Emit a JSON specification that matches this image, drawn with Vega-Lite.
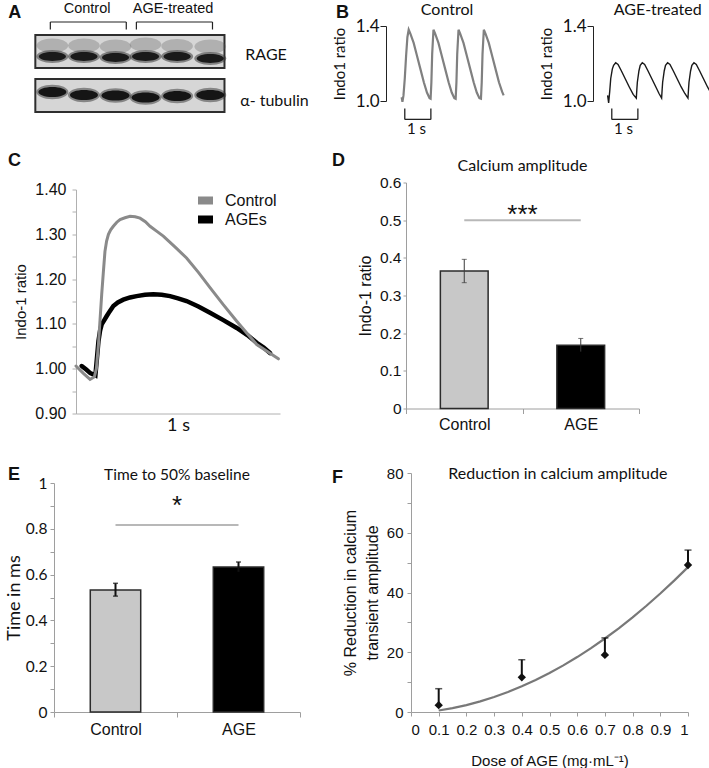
{
  "$schema": "https://vega.github.io/schema/vega-lite/v6.json",
  "background": "white",
  "padding": {"left": 5, "top": 1, "right": 0, "bottom": 0},
  "config": {
    "view": {"stroke": null},
    "axis": {"grid": false, "domainColor": "#9e9e9e", "tickColor": "#9e9e9e", "labelColor": "#111111", "titleColor": "#111111", "labelFont": "Liberation Sans", "titleFont": "Liberation Sans", "titleFontWeight": "normal", "labelFontSize": 15, "titleFontSize": 16},
    "title": {"font": "Liberation Sans", "fontSize": 18, "fontWeight": "bold", "color": "#111111", "anchor": "start", "frame": "group"}
  },
  "datasets": {
    "aBoxes": [{"x": 0.46, "x2": 6.45, "y": 3.3, "y2": 6.6}, {"x": 0.46, "x2": 6.45, "y": 7.7, "y2": 11.0}],
    "aRageUpper": [{"x": 1.0, "y": 4.35}, {"x": 2.0, "y": 4.35}, {"x": 3.0, "y": 4.45}, {"x": 3.95, "y": 4.25}, {"x": 4.95, "y": 4.4}, {"x": 6.0, "y": 4.45}],
    "aRageLower": [{"x": 1.0, "y": 5.45}, {"x": 2.0, "y": 5.45}, {"x": 3.0, "y": 5.55}, {"x": 3.95, "y": 5.45}, {"x": 4.95, "y": 5.45}, {"x": 6.0, "y": 5.65}],
    "aTubulin": [{"x": 1.0, "y": 9.0}, {"x": 2.0, "y": 9.3}, {"x": 3.0, "y": 9.35}, {"x": 3.95, "y": 9.55}, {"x": 4.95, "y": 9.4}, {"x": 6.0, "y": 9.3}],
    "aBrackets": [{"x": 0.935, "x2": 3.34, "y": 2.0}, {"x": 3.66, "x2": 6.07, "y": 2.0}],
    "aLegs": [{"x": 0.935, "y": 2.0, "y2": 2.75}, {"x": 3.34, "y": 2.0, "y2": 2.75}, {"x": 3.66, "y": 2.0, "y2": 2.75}, {"x": 6.07, "y": 2.0, "y2": 2.75}],
    "aLabels": [{"x": 2.1, "y": 0.7, "label": "Control"}, {"x": 4.82, "y": 0.7, "label": "AGE-treated"}],
    "aNames": [{"x": 7.11, "y": 5.25, "label": "RAGE"}, {"x": 6.95, "y": 9.9, "label": "α- tubulin"}],
    "aLetter": [{"x": -0.4, "y": 1.1, "label": "A"}],
    "bControl": [
      {"t": 0.0, "v": 1.02}, {"t": 0.03, "v": 0.995}, {"t": 0.07, "v": 1.03}, {"t": 0.12, "v": 1.12}, {"t": 0.17, "v": 1.24}, {"t": 0.22, "v": 1.34}, {"t": 0.27, "v": 1.38},
      {"t": 0.33, "v": 1.36}, {"t": 0.46, "v": 1.31}, {"t": 0.59, "v": 1.24}, {"t": 0.72, "v": 1.17}, {"t": 0.85, "v": 1.1}, {"t": 0.97, "v": 1.045}, {"t": 1.07, "v": 1.015}, {"t": 1.11, "v": 1.012},
      {"t": 1.14, "v": 1.1}, {"t": 1.17, "v": 1.25}, {"t": 1.22, "v": 1.38}, {"t": 1.28, "v": 1.36}, {"t": 1.41, "v": 1.31}, {"t": 1.54, "v": 1.24}, {"t": 1.67, "v": 1.17}, {"t": 1.8, "v": 1.1}, {"t": 1.92, "v": 1.045}, {"t": 2.02, "v": 1.015}, {"t": 2.07, "v": 1.012},
      {"t": 2.1, "v": 1.1}, {"t": 2.13, "v": 1.25}, {"t": 2.18, "v": 1.38}, {"t": 2.24, "v": 1.36}, {"t": 2.37, "v": 1.31}, {"t": 2.5, "v": 1.24}, {"t": 2.63, "v": 1.17}, {"t": 2.76, "v": 1.1}, {"t": 2.88, "v": 1.045}, {"t": 2.98, "v": 1.015}, {"t": 3.04, "v": 1.012},
      {"t": 3.07, "v": 1.1}, {"t": 3.1, "v": 1.25}, {"t": 3.15, "v": 1.38}, {"t": 3.21, "v": 1.36}, {"t": 3.34, "v": 1.31}, {"t": 3.47, "v": 1.24}, {"t": 3.6, "v": 1.17}, {"t": 3.73, "v": 1.1}, {"t": 3.85, "v": 1.05}, {"t": 3.91, "v": 1.03}
    ],
    "bAGE": [
      {"t": -0.04, "v": 1.03}, {"t": 0.0, "v": 0.99}, {"t": 0.04, "v": 1.05}, {"t": 0.08, "v": 1.12}, {"t": 0.14, "v": 1.17}, {"t": 0.19, "v": 1.19}, {"t": 0.27, "v": 1.204}, {"t": 0.36, "v": 1.195}, {"t": 0.49, "v": 1.16}, {"t": 0.64, "v": 1.117}, {"t": 0.79, "v": 1.075}, {"t": 0.94, "v": 1.035}, {"t": 1.06, "v": 1.015},
      {"t": 1.08, "v": 1.06}, {"t": 1.1, "v": 1.1}, {"t": 1.16, "v": 1.16}, {"t": 1.21, "v": 1.19}, {"t": 1.29, "v": 1.204}, {"t": 1.38, "v": 1.195}, {"t": 1.51, "v": 1.16}, {"t": 1.66, "v": 1.117}, {"t": 1.81, "v": 1.075}, {"t": 1.93, "v": 1.04}, {"t": 2.03, "v": 1.015},
      {"t": 2.05, "v": 1.06}, {"t": 2.07, "v": 1.1}, {"t": 2.13, "v": 1.16}, {"t": 2.18, "v": 1.19}, {"t": 2.26, "v": 1.204}, {"t": 2.35, "v": 1.195}, {"t": 2.48, "v": 1.16}, {"t": 2.63, "v": 1.117}, {"t": 2.78, "v": 1.075}, {"t": 2.92, "v": 1.04}, {"t": 3.04, "v": 1.015},
      {"t": 3.06, "v": 1.06}, {"t": 3.08, "v": 1.1}, {"t": 3.14, "v": 1.16}, {"t": 3.19, "v": 1.19}, {"t": 3.27, "v": 1.204}, {"t": 3.36, "v": 1.195}, {"t": 3.49, "v": 1.16}, {"t": 3.64, "v": 1.117}, {"t": 3.79, "v": 1.075}, {"t": 3.93, "v": 1.04}, {"t": 4.0, "v": 1.03}
    ],
    "bScale": [{"t": 0.12, "t2": 1.12, "v": 0.902}],
    "bLegs": [{"t": 0.12, "v": 0.902, "v2": 0.96}, {"t": 1.12, "v": 0.902, "v2": 0.96}],
    "bScaleText": [{"t": 0.57, "v": 0.85, "label": "1 s"}],
    "bHeadC": [{"t": 1.74, "v": 1.485, "label": "Control"}],
    "bHeadA": [{"t": 1.88, "v": 1.485, "label": "AGE-treated"}],
    "cTrace": [
      {"series": "AGEs", "t": 0.028, "v": 1.006}, {"series": "AGEs", "t": 0.05, "v": 0.998}, {"series": "AGEs", "t": 0.07, "v": 0.99}, {"series": "AGEs", "t": 0.085, "v": 0.987}, {"series": "AGEs", "t": 0.095, "v": 0.985}, {"series": "AGEs", "t": 0.104, "v": 1.03}, {"series": "AGEs", "t": 0.11, "v": 1.061}, {"series": "AGEs", "t": 0.118, "v": 1.085}, {"series": "AGEs", "t": 0.126, "v": 1.099}, {"series": "AGEs", "t": 0.138, "v": 1.108}, {"series": "AGEs", "t": 0.15, "v": 1.117}, {"series": "AGEs", "t": 0.165, "v": 1.128}, {"series": "AGEs", "t": 0.183, "v": 1.14}, {"series": "AGEs", "t": 0.205, "v": 1.148}, {"series": "AGEs", "t": 0.232, "v": 1.154}, {"series": "AGEs", "t": 0.265, "v": 1.159}, {"series": "AGEs", "t": 0.297, "v": 1.162}, {"series": "AGEs", "t": 0.338, "v": 1.165}, {"series": "AGEs", "t": 0.379, "v": 1.166}, {"series": "AGEs", "t": 0.42, "v": 1.165}, {"series": "AGEs", "t": 0.461, "v": 1.162}, {"series": "AGEs", "t": 0.5, "v": 1.157}, {"series": "AGEs", "t": 0.542, "v": 1.151}, {"series": "AGEs", "t": 0.6, "v": 1.139}, {"series": "AGEs", "t": 0.657, "v": 1.125}, {"series": "AGEs", "t": 0.72, "v": 1.109}, {"series": "AGEs", "t": 0.788, "v": 1.091}, {"series": "AGEs", "t": 0.84, "v": 1.075}, {"series": "AGEs", "t": 0.886, "v": 1.058}, {"series": "AGEs", "t": 0.92, "v": 1.047}, {"series": "AGEs", "t": 0.951, "v": 1.035},
      {"series": "Control", "t": 0.0, "v": 1.006}, {"series": "Control", "t": 0.035, "v": 0.99}, {"series": "Control", "t": 0.069, "v": 0.976}, {"series": "Control", "t": 0.09, "v": 0.982}, {"series": "Control", "t": 0.1, "v": 1.0}, {"series": "Control", "t": 0.11, "v": 1.054}, {"series": "Control", "t": 0.118, "v": 1.11}, {"series": "Control", "t": 0.126, "v": 1.166}, {"series": "Control", "t": 0.134, "v": 1.215}, {"series": "Control", "t": 0.142, "v": 1.262}, {"series": "Control", "t": 0.15, "v": 1.285}, {"series": "Control", "t": 0.159, "v": 1.3}, {"series": "Control", "t": 0.17, "v": 1.31}, {"series": "Control", "t": 0.183, "v": 1.318}, {"series": "Control", "t": 0.2, "v": 1.327}, {"series": "Control", "t": 0.216, "v": 1.333}, {"series": "Control", "t": 0.24, "v": 1.337}, {"series": "Control", "t": 0.265, "v": 1.34}, {"series": "Control", "t": 0.29, "v": 1.339}, {"series": "Control", "t": 0.314, "v": 1.336}, {"series": "Control", "t": 0.34, "v": 1.328}, {"series": "Control", "t": 0.363, "v": 1.318}, {"series": "Control", "t": 0.395, "v": 1.307}, {"series": "Control", "t": 0.428, "v": 1.296}, {"series": "Control", "t": 0.485, "v": 1.272}, {"series": "Control", "t": 0.542, "v": 1.247}, {"series": "Control", "t": 0.6, "v": 1.215}, {"series": "Control", "t": 0.657, "v": 1.181}, {"series": "Control", "t": 0.72, "v": 1.144}, {"series": "Control", "t": 0.788, "v": 1.106}, {"series": "Control", "t": 0.84, "v": 1.078}, {"series": "Control", "t": 0.886, "v": 1.054}, {"series": "Control", "t": 0.94, "v": 1.038}, {"series": "Control", "t": 0.992, "v": 1.022}
    ],
    "dBars": [{"group": "Control", "val": 0.365}, {"group": "AGE", "val": 0.168}],
    "dErr": [{"group": "Control", "val": 0.334, "val2": 0.396}, {"group": "AGE", "val": 0.151, "val2": 0.186}],
    "dCaps": [{"group": "Control", "val": 0.334}, {"group": "Control", "val": 0.396}, {"group": "AGE", "val": 0.186}],
    "dSig": [{"group": "Control", "group2": "AGE", "val": 0.5}],
    "dStar": [{"group": "AGE", "val": 0.515, "label": "***"}],
    "dHead": [{"group": "AGE", "val": 0.645, "label": "Calcium amplitude"}],
    "eBars": [{"group": "Control", "val": 0.533}, {"group": "AGE", "val": 0.633}],
    "eErr": [{"group": "Control", "val": 0.506, "val2": 0.562}, {"group": "AGE", "val": 0.612, "val2": 0.655}],
    "eCaps": [{"group": "Control", "val": 0.506}, {"group": "Control", "val": 0.562}, {"group": "AGE", "val": 0.655}],
    "eSig": [{"group": "Control", "group2": "AGE", "val": 0.817}],
    "eStar": [{"group": "AGE", "val": 0.9, "label": "*"}],
    "eHead": [{"group": "AGE", "val": 1.035, "label": "Time to 50% baseline"}],
    "fPts": [{"dose": 0.1, "red": 2.3, "hi": 7.8}, {"dose": 0.4, "red": 11.6, "hi": 17.5}, {"dose": 0.7, "red": 19.1, "hi": 24.8}, {"dose": 1.0, "red": 49.2, "hi": 54.2}],
    "fFit": [{"dose": 0.1, "red": 0.5}, {"dose": 0.15, "red": 1.3}, {"dose": 0.2, "red": 2.32}, {"dose": 0.25, "red": 3.56}, {"dose": 0.3, "red": 5.02}, {"dose": 0.35, "red": 6.7}, {"dose": 0.4, "red": 8.6}, {"dose": 0.45, "red": 10.72}, {"dose": 0.5, "red": 13.06}, {"dose": 0.55, "red": 15.61}, {"dose": 0.6, "red": 18.39}, {"dose": 0.65, "red": 21.38}, {"dose": 0.7, "red": 24.6}, {"dose": 0.75, "red": 28.03}, {"dose": 0.8, "red": 31.69}, {"dose": 0.85, "red": 35.56}, {"dose": 0.9, "red": 39.66}, {"dose": 0.95, "red": 43.97}, {"dose": 1.0, "red": 48.5}],
    "fHead": [{"dose": 0.53, "red": 79.5, "label": "Reduction in calcium amplitude"}]
  },
  "columns": 2,
  "align": "none",
  "spacing": {"row": 13.5, "column": 10},
  "resolve": {"legend": {"color": "independent"}},
  "concat": [
    {
      "width": 224, "height": 86,
      "encoding": {
        "x": {"field": "x", "type": "quantitative", "scale": {"domain": [1.748, 8.841]}, "axis": null},
        "y": {"field": "y", "type": "quantitative", "scale": {"domain": [2.4, 11.0], "reverse": true}, "axis": null}
      },
      "layer": [
        {"data": {"name": "aBoxes"}, "mark": {"type": "rect", "fill": "#d6d6d6", "stroke": "#2e2e2e", "strokeWidth": 2}, "encoding": {"x2": {"field": "x2"}, "y2": {"field": "y2"}}},
        {"data": {"name": "aRageUpper"}, "mark": {"type": "point", "shape": "M-1,0A1,0.45,0,1,1,1,0A1,0.45,0,1,1,-1,0Z", "filled": true, "color": "#5a5a5a", "opacity": 0.3, "size": 1000, "strokeWidth": 0}},
        {"data": {"name": "aRageLower"}, "mark": {"type": "point", "shape": "M-1,0A1,0.4,0,1,1,1,0A1,0.4,0,1,1,-1,0Z", "filled": true, "color": "#3c3c3c", "opacity": 0.55, "size": 1024, "strokeWidth": 0}},
        {"data": {"name": "aRageLower"}, "mark": {"type": "point", "shape": "M-1,0A1,0.33,0,1,1,1,0A1,0.33,0,1,1,-1,0Z", "filled": true, "color": "#141414", "opacity": 0.95, "size": 729, "strokeWidth": 0}},
        {"data": {"name": "aTubulin"}, "mark": {"type": "point", "shape": "M-1,0A1,0.45,0,1,1,1,0A1,0.45,0,1,1,-1,0Z", "filled": true, "color": "#333333", "opacity": 0.5, "size": 1024, "strokeWidth": 0}},
        {"data": {"name": "aTubulin"}, "mark": {"type": "point", "shape": "M-1,0A1,0.36,0,1,1,1,0A1,0.36,0,1,1,-1,0Z", "filled": true, "color": "#0f0f0f", "opacity": 0.95, "size": 784, "strokeWidth": 0}},
        {"data": {"name": "aBrackets"}, "mark": {"type": "rule", "color": "#222222", "strokeWidth": 1.2}, "encoding": {"x2": {"field": "x2"}}},
        {"data": {"name": "aLegs"}, "mark": {"type": "rule", "color": "#222222", "strokeWidth": 1.2}, "encoding": {"y2": {"field": "y2"}}},
        {"data": {"name": "aLabels"}, "mark": {"type": "text", "font": "Liberation Sans", "fontSize": 14.5, "color": "#111111", "align": "center", "baseline": "middle"}, "encoding": {"text": {"field": "label"}}},
        {"data": {"name": "aNames"}, "mark": {"type": "text", "font": "Lato", "fontSize": 16, "color": "#111111", "align": "left", "baseline": "middle"}, "encoding": {"text": {"field": "label"}}},
        {"data": {"name": "aLetter"}, "mark": {"type": "text", "font": "Liberation Sans", "fontSize": 18, "fontWeight": "bold", "color": "#111111", "align": "left", "baseline": "middle"}, "encoding": {"text": {"field": "label"}}}
      ]
    },
    {
      "columns": 2,
      "align": "none",
      "spacing": 30,
      "concat": [
        {
          "width": 120, "height": 75,
          "title": {"text": "B", "dx": -50, "offset": -20},
          "encoding": {
            "x": {"field": "t", "type": "quantitative", "scale": {"domain": [-0.6, 4]}, "axis": null},
            "y": {"field": "v", "type": "quantitative", "scale": {"domain": [1.0, 1.4], "nice": false, "zero": false},
                  "axis": {"values": [1.0, 1.4], "format": ".1f", "title": "Indo1 ratio", "domainColor": "#222222", "tickColor": "#222222", "tickSize": 6, "labelPadding": 1, "labelFont": "Lato", "labelFontSize": 17, "titleFont": "Lato", "titleFontSize": 15, "titlePadding": 8}}
          },
          "layer": [
            {"data": {"name": "bControl"}, "mark": {"type": "line", "color": "#808080", "strokeWidth": 2.2}},
            {"data": {"name": "bScale"}, "mark": {"type": "rule", "color": "#222222", "strokeWidth": 1.3}, "encoding": {"x2": {"field": "t2"}}},
            {"data": {"name": "bLegs"}, "mark": {"type": "rule", "color": "#222222", "strokeWidth": 1.3}, "encoding": {"y2": {"field": "v2"}}},
            {"data": {"name": "bScaleText"}, "mark": {"type": "text", "font": "Lato", "fontSize": 15, "color": "#111111", "baseline": "middle"}, "encoding": {"text": {"field": "label"}}},
            {"data": {"name": "bHeadC"}, "mark": {"type": "text", "font": "Lato", "fontSize": 16, "color": "#111111", "baseline": "middle"}, "encoding": {"text": {"field": "label"}}}
          ]
        },
        {
          "width": 120, "height": 75,
          "encoding": {
            "x": {"field": "t", "type": "quantitative", "scale": {"domain": [-0.6, 4]}, "axis": null},
            "y": {"field": "v", "type": "quantitative", "scale": {"domain": [1.0, 1.4], "nice": false, "zero": false},
                  "axis": {"values": [1.0, 1.4], "format": ".1f", "title": "Indo1 ratio", "domainColor": "#222222", "tickColor": "#222222", "tickSize": 6, "labelPadding": 1, "labelFont": "Lato", "labelFontSize": 17, "titleFont": "Lato", "titleFontSize": 15, "titlePadding": 8}}
          },
          "layer": [
            {"data": {"name": "bAGE"}, "mark": {"type": "line", "color": "#1a1a1a", "strokeWidth": 1.4}},
            {"data": {"name": "bScale"}, "mark": {"type": "rule", "color": "#222222", "strokeWidth": 1.3}, "encoding": {"x2": {"field": "t2"}}},
            {"data": {"name": "bLegs"}, "mark": {"type": "rule", "color": "#222222", "strokeWidth": 1.3}, "encoding": {"y2": {"field": "v2"}}},
            {"data": {"name": "bScaleText"}, "mark": {"type": "text", "font": "Lato", "fontSize": 15, "color": "#111111", "baseline": "middle"}, "encoding": {"text": {"field": "label"}}},
            {"data": {"name": "bHeadA"}, "mark": {"type": "text", "font": "Lato", "fontSize": 16, "color": "#111111", "baseline": "middle"}, "encoding": {"text": {"field": "label"}}}
          ]
        }
      ]
    },
    {
      "width": 204, "height": 224,
      "title": {"text": "C", "dx": -68, "offset": 12},
      "data": {"name": "cTrace"},
      "encoding": {
        "x": {"field": "t", "type": "quantitative", "scale": {"domain": [0, 1]}, "axis": {"labels": false, "ticks": false, "title": "1 s", "titleFont": "Lato", "titleFontSize": 18, "titlePadding": 3, "domainColor": "#b0b0b0"}},
        "y": {"field": "v", "type": "quantitative", "scale": {"domain": [0.9, 1.4], "nice": false, "zero": false},
              "axis": {"values": [0.9, 0.95, 1.0, 1.05, 1.1, 1.15, 1.2, 1.25, 1.3, 1.35, 1.4], "labelExpr": "round(datum.value*100) % 10 == 0 ? format(datum.value, '.2f') : ''", "labelFontSize": 16, "tickSize": 4, "labelPadding": 6, "title": "Indo-1 ratio", "titleFontSize": 15, "titlePadding": 6, "domainColor": "#b0b0b0", "tickColor": "#b0b0b0"}},
        "color": {"field": "series", "type": "nominal", "scale": {"domain": ["Control", "AGEs"], "range": ["#8a8a8a", "#000000"]},
                  "legend": {"orient": "top-right", "offset": 3, "title": null, "symbolType": "M-1,0H1", "symbolStrokeWidth": 8, "symbolSize": 225, "clipHeight": 16, "labelFont": "Liberation Sans", "labelFontSize": 16, "labelColor": "#111111", "labelOffset": 8, "rowPadding": 3}}
      },
      "layer": [
        {"transform": [{"filter": "datum.series == 'AGEs'"}], "mark": {"type": "line", "strokeWidth": 4.5, "strokeCap": "round"}},
        {"transform": [{"filter": "datum.series == 'Control'"}], "mark": {"type": "line", "strokeWidth": 3, "strokeCap": "round"}}
      ]
    },
    {
      "width": 233, "height": 226,
      "title": {"text": "D", "dx": -74, "offset": -12},
      "encoding": {
        "x": {"field": "group", "type": "nominal", "scale": {"domain": ["Control", "AGE"], "paddingInner": 0, "paddingOuter": 0},
              "axis": {"title": null, "labelAngle": 0, "tickBand": "extent", "tickSize": 5, "labelPadding": 3, "labelFontSize": 16}},
        "y": {"field": "val", "type": "quantitative", "scale": {"domain": [0, 0.6], "nice": false},
              "axis": {"values": [0, 0.1, 0.2, 0.3, 0.4, 0.5, 0.6], "labelExpr": "datum.value == 0 ? '0' : format(datum.value, '.1f')", "labelFontSize": 15.5, "tickSize": 3, "labelPadding": 2, "title": "Indo-1 ratio", "titleFontSize": 16, "titlePadding": 6}}
      },
      "layer": [
        {"data": {"name": "dBars"}, "mark": {"type": "bar", "width": {"band": 0.41}, "stroke": "#2b2b2b", "strokeWidth": 1.5},
         "encoding": {"fill": {"field": "group", "type": "nominal", "scale": {"domain": ["Control", "AGE"], "range": ["#c8c8c8", "#000000"]}, "legend": null}}},
        {"data": {"name": "dErr"}, "mark": {"type": "rule", "color": "#3a3a3a", "strokeWidth": 1}, "encoding": {"y2": {"field": "val2"}}},
        {"data": {"name": "dCaps"}, "mark": {"type": "tick", "orient": "horizontal", "color": "#3a3a3a", "thickness": 1, "size": 5}},
        {"data": {"name": "dSig"}, "mark": {"type": "rule", "color": "#b8b8b8", "strokeWidth": 2}, "encoding": {"x2": {"field": "group2"}}},
        {"data": {"name": "dStar"}, "mark": {"type": "text", "font": "Liberation Sans", "fontSize": 26, "color": "#111111", "baseline": "middle"},
         "encoding": {"x": {"field": "group", "type": "nominal", "bandPosition": 0, "scale": {"domain": ["Control", "AGE"], "paddingInner": 0, "paddingOuter": 0}, "axis": {"title": null, "labelAngle": 0, "tickBand": "extent", "tickSize": 5, "labelPadding": 3, "labelFontSize": 16}}, "text": {"field": "label"}}},
        {"data": {"name": "dHead"}, "mark": {"type": "text", "font": "Lato", "fontSize": 16, "color": "#111111", "baseline": "middle"},
         "encoding": {"x": {"field": "group", "type": "nominal", "bandPosition": 0, "scale": {"domain": ["Control", "AGE"], "paddingInner": 0, "paddingOuter": 0}, "axis": {"title": null, "labelAngle": 0, "tickBand": "extent", "tickSize": 5, "labelPadding": 3, "labelFontSize": 16}}, "text": {"field": "label"}}}
      ]
    },
    {
      "width": 224, "height": 229,
      "title": {"text": ["", "E"], "lineHeight": 12.5, "dx": -68, "offset": -16},
      "encoding": {
        "x": {"field": "group", "type": "nominal", "scale": {"domain": ["Control", "AGE"], "range": [-22, 224], "paddingInner": 0, "paddingOuter": 0},
              "axis": {"title": null, "labelAngle": 0, "tickBand": "extent", "tickSize": 5, "labelPadding": 4, "labelFontSize": 16}},
        "y": {"field": "val", "type": "quantitative", "scale": {"domain": [0, 1], "nice": false},
              "axis": {"offset": 22, "values": [0, 0.1, 0.2, 0.3, 0.4, 0.5, 0.6, 0.7, 0.8, 0.9, 1], "labelExpr": "round(datum.value*10) % 2 == 0 ? ((datum.value == 0 || datum.value == 1) ? format(datum.value, 'd') : format(datum.value, '.1f')) : ''", "labelFont": "Lato", "labelFontSize": 15.5, "tickSize": 4, "labelPadding": 3, "title": "Time in ms", "titleFont": "Lato", "titleFontSize": 18, "titlePadding": 2}}
      },
      "layer": [
        {"data": {"name": "eBars"}, "mark": {"type": "bar", "width": {"band": 0.41}, "stroke": "#2b2b2b", "strokeWidth": 1.5},
         "encoding": {"fill": {"field": "group", "type": "nominal", "scale": {"domain": ["Control", "AGE"], "range": ["#c8c8c8", "#000000"]}, "legend": null}}},
        {"data": {"name": "eErr"}, "mark": {"type": "rule", "color": "#111111", "strokeWidth": 2}, "encoding": {"y2": {"field": "val2"}}},
        {"data": {"name": "eCaps"}, "mark": {"type": "tick", "orient": "horizontal", "color": "#111111", "thickness": 1.5, "size": 5}},
        {"data": {"name": "eSig"}, "mark": {"type": "rule", "color": "#b8b8b8", "strokeWidth": 2}, "encoding": {"x2": {"field": "group2"}}},
        {"data": {"name": "eStar"}, "mark": {"type": "text", "font": "Liberation Sans", "fontSize": 26, "color": "#111111", "baseline": "middle"},
         "encoding": {"x": {"field": "group", "type": "nominal", "bandPosition": 0, "scale": {"domain": ["Control", "AGE"], "range": [-22, 224], "paddingInner": 0, "paddingOuter": 0}, "axis": {"title": null, "labelAngle": 0, "tickBand": "extent", "tickSize": 5, "labelPadding": 4, "labelFontSize": 16}}, "text": {"field": "label"}}},
        {"data": {"name": "eHead"}, "mark": {"type": "text", "font": "Lato", "fontSize": 15.5, "color": "#111111", "baseline": "middle"},
         "encoding": {"x": {"field": "group", "type": "nominal", "bandPosition": 0, "scale": {"domain": ["Control", "AGE"], "range": [-22, 224], "paddingInner": 0, "paddingOuter": 0}, "axis": {"title": null, "labelAngle": 0, "tickBand": "extent", "tickSize": 5, "labelPadding": 4, "labelFontSize": 16}}, "text": {"field": "label"}}}
      ]
    },
    {
      "width": 277, "height": 239,
      "title": {"text": ["", "F"], "lineHeight": 22, "dx": -79, "offset": -20.5},
      "encoding": {
        "x": {"field": "dose", "type": "quantitative", "scale": {"domain": [0, 1], "nice": false},
              "axis": {"values": [0, 0.1, 0.2, 0.3, 0.4, 0.5, 0.6, 0.7, 0.8, 0.9, 1], "labelExpr": "(datum.value == 0 || datum.value == 1) ? format(datum.value, 'd') : format(datum.value, '.1f')", "tickSize": 4, "labelPadding": 6, "labelFontSize": 15, "title": "Dose of AGE (mg·mL⁻¹)", "titleFontSize": 15, "titlePadding": 16}},
        "y": {"field": "red", "type": "quantitative", "scale": {"domain": [0, 80], "nice": false},
              "axis": {"values": [0, 10, 20, 30, 40, 50, 60, 70, 80], "labelExpr": "datum.value % 20 == 0 ? datum.label : ''", "tickSize": 4, "labelPadding": 4, "labelFontSize": 15, "title": ["% Reduction in calcium", "transient amplitude"], "titleFontSize": 16, "titleLineHeight": 22, "titlePadding": 6}}
      },
      "layer": [
        {"data": {"name": "fFit"}, "mark": {"type": "line", "color": "#787878", "strokeWidth": 2.2}},
        {"data": {"name": "fPts"}, "mark": {"type": "rule", "color": "#111111", "strokeWidth": 2}, "encoding": {"y2": {"field": "hi"}}},
        {"data": {"name": "fPts"}, "mark": {"type": "tick", "orient": "horizontal", "color": "#111111", "thickness": 1.5, "size": 7},
         "encoding": {"y": {"field": "hi", "type": "quantitative", "scale": {"domain": [0, 80], "nice": false}, "axis": {"values": [0, 10, 20, 30, 40, 50, 60, 70, 80], "labelExpr": "datum.value % 20 == 0 ? datum.label : ''", "tickSize": 4, "labelPadding": 4, "labelFontSize": 15, "title": ["% Reduction in calcium", "transient amplitude"], "titleFontSize": 16, "titleLineHeight": 22, "titlePadding": 6}}}},
        {"data": {"name": "fPts"}, "mark": {"type": "point", "shape": "diamond", "filled": true, "color": "#111111", "opacity": 1, "size": 70}},
        {"data": {"name": "fHead"}, "mark": {"type": "text", "font": "Lato", "fontSize": 16, "color": "#111111", "baseline": "middle"}, "encoding": {"text": {"field": "label"}}}
      ]
    }
  ]
}
